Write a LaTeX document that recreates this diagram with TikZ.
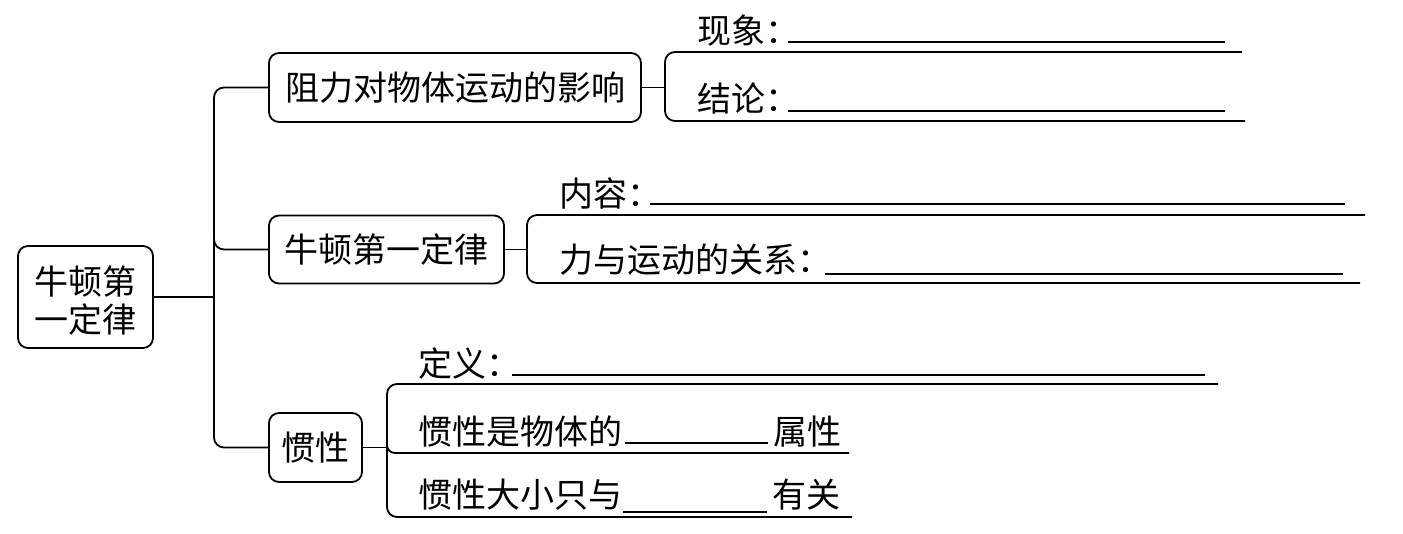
\documentclass[tikz,border=0pt]{standalone}
\usepackage{fontspec}
\setmainfont{Noto Sans CJK SC}
\begin{document}
\begin{tikzpicture}[x=1pt,y=-1pt,line width=1.8pt,
  box/.style={draw, rounded corners=10pt, inner sep=0pt, align=center, font=\fontsize{34}{38}\selectfont},
  lbl/.style={anchor=base west, inner sep=0pt, font=\fontsize{34}{38}\selectfont},
  rtxt/.style={anchor=base, inner sep=0pt, font=\fontsize{34}{38}\selectfont},
  blank/.style={line width=1.8pt},
  brk/.style={rounded corners=10pt}]
\useasboundingbox (0,0) rectangle (1403,533);
% main boxes
\node[box, minimum width=135pt, minimum height=102pt] (root) at (85.5,297) {};
\node[rtxt] (root1) at (85.5,294) {牛顿第};
\node[rtxt] (root2) at (85.5,332) {一定律};
\node[box, minimum width=372pt, minimum height=69pt] (b1) at (455,87.5) {阻力对物体运动的影响};
\node[box, minimum width=235pt, minimum height=68pt] (b2) at (386.5,249.5) {牛顿第一定律};
\node[box, minimum width=93pt, minimum height=69pt] (b3) at (315.5,447.5) {惯性};
% trunk
\coordinate (jT) at (214,87.5);
\coordinate (jB) at (214,447.5);
\coordinate (jM0) at (214,230);
\coordinate (jM) at (214,249.5);
\coordinate (jR) at (214,297);
\draw[brk] (b1.west) -- (jT) -- (jB) -- (b3.west);
\draw[brk] (jM0) -- (jM) -- (b2.west);
\draw (root.east) -- (jR);
% bracket 1
\coordinate (k1a) at (1242,52);
\coordinate (k1b) at (665,52);
\coordinate (k1c) at (665,121);
\coordinate (k1d) at (1245,121);
\coordinate (k1m) at (665,87.5);
\draw[brk] (k1a) -- (k1b) -- (k1c) -- (k1d);
\draw (b1.east) -- (k1m);
% bracket 2
\coordinate (k2a) at (1365,215);
\coordinate (k2b) at (527,215);
\coordinate (k2c) at (527,283);
\coordinate (k2d) at (1360,283);
\coordinate (k2m) at (527,249.5);
\draw[brk] (k2a) -- (k2b) -- (k2c) -- (k2d);
\draw (b2.east) -- (k2m);
% bracket 3
\coordinate (k3a) at (1218,384);
\coordinate (k3b) at (387,384);
\coordinate (k3c) at (387,517);
\coordinate (k3d) at (852,517);
\coordinate (k3m) at (387,447.5);
\coordinate (k3n0) at (387,438);
\coordinate (k3n) at (387,453);
\coordinate (k3e) at (849,453);
\draw[brk] (k3a) -- (k3b) -- (k3c) -- (k3d);
\draw[rounded corners=8pt] (k3n0) -- (k3n) -- (k3e);
\draw (b3.east) -- (k3m);
% labels
\node[lbl] (t1) at (697,43) {现象：};
\draw[blank] (788,42) coordinate (u1a) -- (1225,42) coordinate (u1b);
\node[lbl] (t2) at (697,111) {结论：};
\draw[blank] (788,111) coordinate (u2a) -- (1225,111) coordinate (u2b);
\node[lbl] (t3) at (559,206) {内容：};
\draw[blank] (650,204) coordinate (u3a) -- (1345,204) coordinate (u3b);
\node[lbl] (t4) at (559,272) {力与运动的关系：};
\draw[blank] (825,274) coordinate (u4a) -- (1343,274) coordinate (u4b);
\node[lbl] (t5) at (418,376) {定义：};
\draw[blank] (512,375) coordinate (u5a) -- (1205,375) coordinate (u5b);
\node[lbl] (t6) at (418,444) {惯性是物体的};
\draw[blank] (625,443) coordinate (u6a) -- (768,443) coordinate (u6b);
\node[lbl] (t6b) at (773,444) {属性};
\node[lbl] (t7) at (418,507) {惯性大小只与};
\draw[blank] (623,512) coordinate (u7a) -- (767,512) coordinate (u7b);
\node[lbl] (t7b) at (772,507) {有关};
\end{tikzpicture}
\end{document}
